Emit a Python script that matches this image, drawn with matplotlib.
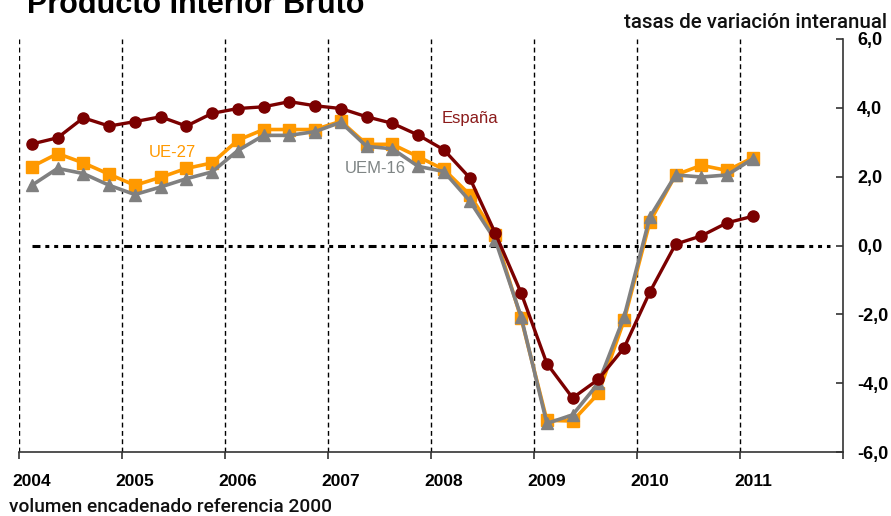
import matplotlib
matplotlib.use("Agg")
import matplotlib.pyplot as plt
import numpy as np
from matplotlib.ticker import FixedLocator, FuncFormatter

plt.rcParams['font.family'] = ['Liberation Sans', 'DejaVu Sans']

# Quarterly data 2004Q1 .. 2011Q1
years = [2004, 2005, 2006, 2007, 2008, 2009, 2010, 2011]
espana = [2.95, 3.13, 3.71, 3.47, 3.60, 3.74, 3.47, 3.84,
          3.98, 4.03, 4.18, 4.06, 3.98, 3.74, 3.55, 3.21,
          2.78, 1.97, 0.35, -1.38, -3.43, -4.43, -3.89, -2.97,
          -1.35, 0.04, 0.28, 0.66, 0.85]
ue27 = [2.29, 2.67, 2.40, 2.07, 1.75, 1.98, 2.24, 2.40,
        3.06, 3.37, 3.37, 3.37, 3.61, 2.94, 2.94, 2.58,
        2.21, 1.48, 0.30, -2.12, -5.08, -5.10, -4.30, -2.17,
        0.69, 2.05, 2.33, 2.18, 2.55]
uem16 = [1.75, 2.24, 2.09, 1.75, 1.48, 1.70, 1.94, 2.14,
         2.76, 3.20, 3.20, 3.31, 3.58, 2.88, 2.81, 2.30,
         2.15, 1.30, 0.15, -2.07, -5.17, -4.92, -4.00, -2.07,
         0.83, 2.05, 1.99, 2.05, 2.52]
zero_ref = [0.0] * 32
y_ticks = [-6, -4, -2, 0, 2, 4, 6]

n = len(espana)
xq = 2004 + (np.arange(n) + 0.5) / 4.0
xz = 2004 + (np.arange(len(zero_ref)) + 0.5) / 4.0

fig = plt.figure(figsize=(8.91, 5.16), dpi=100)
ax = fig.add_axes([19/891, 1-452/516, (843-19)/891, (452-39)/516])
ax.set_xlim(2004, 2012)
ax.set_ylim(-6, 6)

for yr in years:
    ax.axvline(yr, color='black', lw=1.0, ls=(0, (3.5, 2.5)), zorder=1)

ax.plot(xz, zero_ref, color='black', lw=2.2, ls=(0, (2.6, 1.6, 1.3, 1.6, 1.3, 1.6)), zorder=2)

c_es = '#7B0000'
c_ue = '#FF9900'
c_uem = '#808080'
ax.plot(xq, espana, color=c_es, lw=2.4, marker='o', ms=8, zorder=5)
ax.plot(xq, ue27, color=c_ue, lw=2.6, marker='s', ms=8, zorder=3)
ax.plot(xq, uem16, color=c_uem, lw=2.6, marker='^', ms=8.5, zorder=4)

ax.text(2008.107, 3.69, 'España', color='#8B1A1A', fontsize=12, ha='left', va='center')
ax.text(2005.26, 2.70, 'UE-27', color=c_ue, fontsize=12, ha='left', va='center')
ax.text(2007.165, 2.24, 'UEM-16', color='#7F8585', fontsize=12, ha='left', va='center')

for s in ['left', 'top']:
    ax.spines[s].set_visible(False)
ax.spines['bottom'].set_color('#333333')
ax.spines['right'].set_color('#333333')
ax.spines['bottom'].set_linewidth(1.2)
ax.spines['right'].set_linewidth(1.2)

ax.xaxis.set_major_locator(FixedLocator(years + [2012]))
ax.xaxis.set_major_formatter(FuncFormatter(lambda v, p: ''))
ax.xaxis.set_minor_locator(FixedLocator([y + 0.125 for y in years]))
ax.xaxis.set_minor_formatter(FuncFormatter(lambda v, p: str(int(v))))
ax.tick_params(axis='x', which='major', direction='out', length=5, width=1.2, color='#333333')
ax.tick_params(axis='x', which='minor', length=0, pad=16, labelsize=12.5)
for lab in ax.get_xticklabels(minor=True):
    lab.set_fontweight('bold')

ax.yaxis.tick_right()
ax.yaxis.set_major_locator(FixedLocator(y_ticks))
ax.yaxis.set_major_formatter(FuncFormatter(lambda v, p: f"{v:.1f}".replace('.', ',')))
ax.tick_params(axis='y', direction='in', length=5, width=1.2, color='#333333', pad=10, labelsize=13)
for lab in ax.get_yticklabels():
    lab.set_fontweight('bold')

fig.text(27/891, 1-13/516, 'Producto Interior Bruto', fontsize=22, fontweight='bold',
         ha='left', va='baseline', color='black')
fig.text(887/891, 1-22/516, 'tasas de variación interanual', fontsize=14.8,
         family=['Roboto', 'DejaVu Sans'], fontweight='medium',
         ha='right', va='center', color='#111111')
fig.text(9/891, 1-507/516, 'volumen encadenado referencia 2000', fontsize=13.8,
         family=['Roboto', 'DejaVu Sans'], fontweight='medium',
         ha='left', va='center', color='#111111')

fig.savefig('out.png', dpi=100)
